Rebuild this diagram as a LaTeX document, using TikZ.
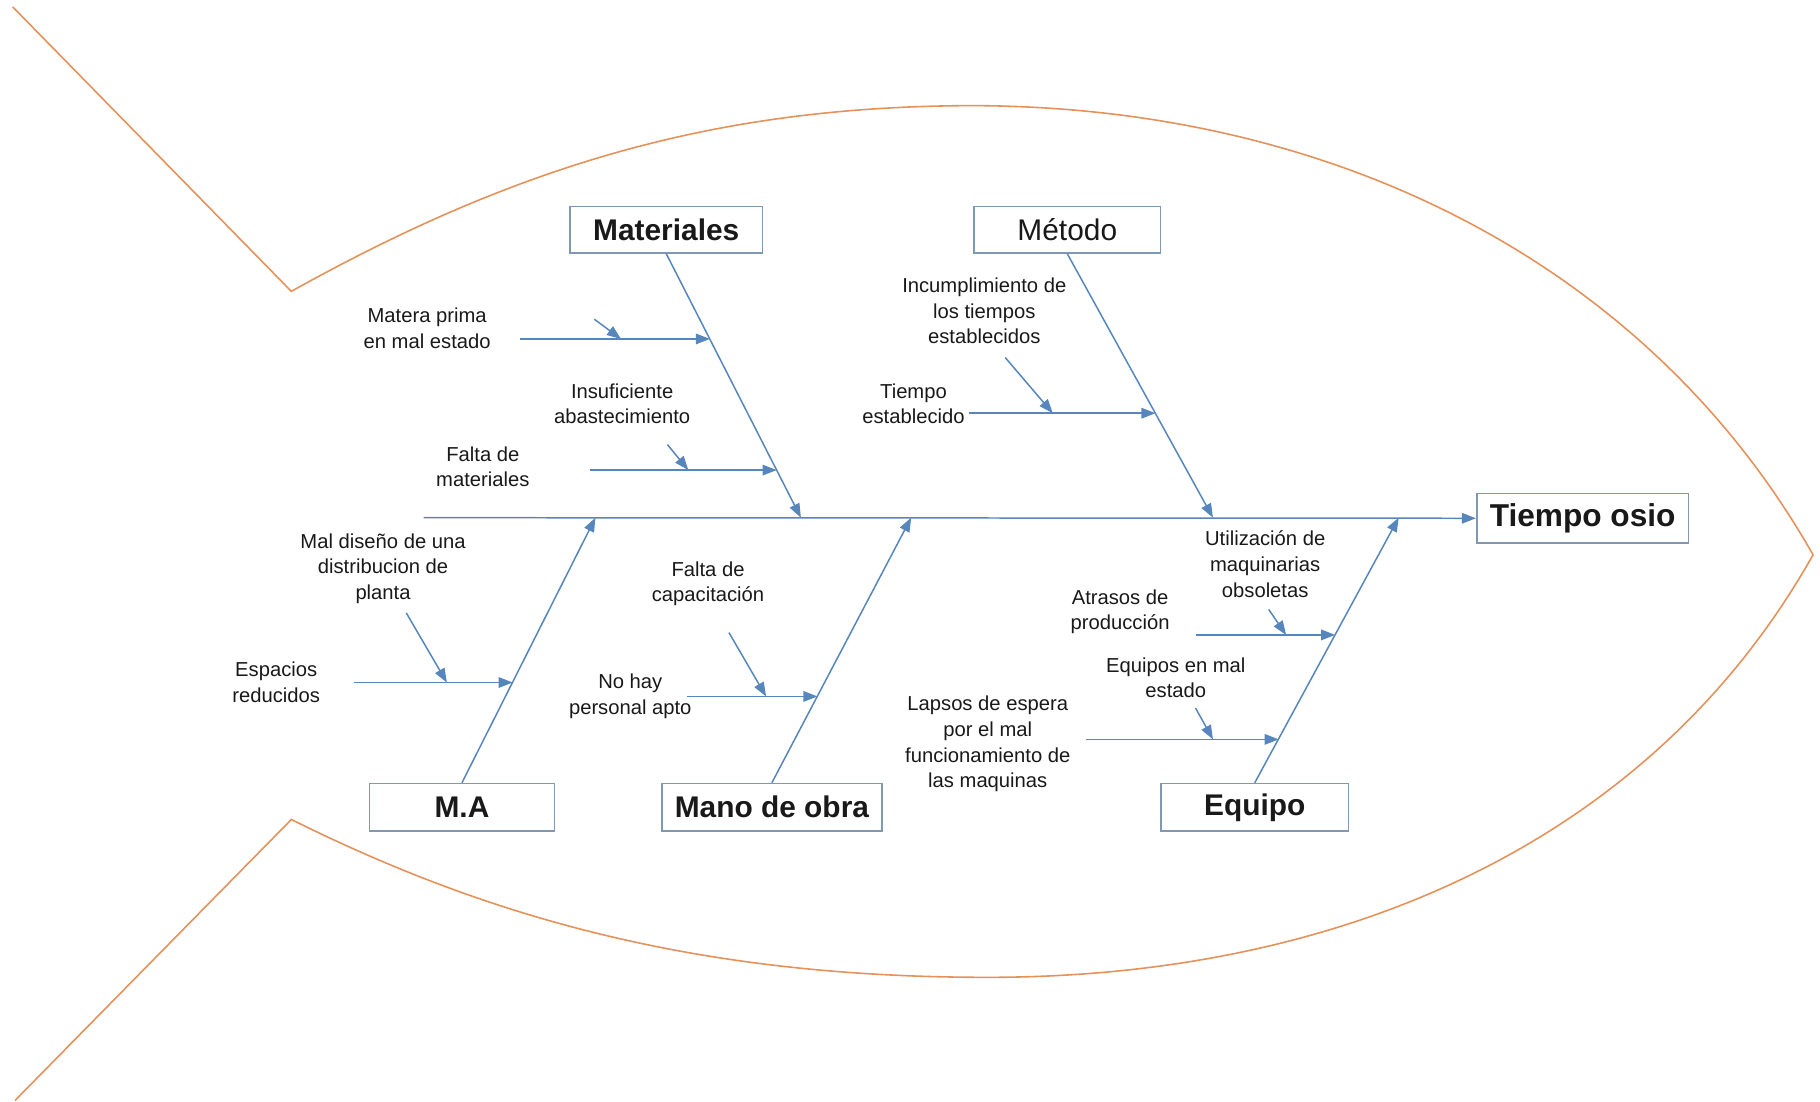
\documentclass[tikz,border=0pt]{standalone}
\usepackage{fontspec}
\setmainfont{Liberation Sans}
\usetikzlibrary{arrows.meta}
\definecolor{fishc}{RGB}{228,145,90}
\definecolor{bonec}{RGB}{86,134,188}
\definecolor{boxc}{RGB}{128,152,178}
\definecolor{txtc}{RGB}{25,25,25}
\begin{document}
\begin{tikzpicture}[x=0.023214cm,y=-0.023214cm,
  fish/.style={draw=fishc,line width=0.9pt,line join=miter},
  bone/.style={draw=bonec,line width=0.85pt,-{Triangle[length=8pt,width=6pt]}},
  catbox/.style={draw=boxc,line width=0.9pt,fill=white,inner sep=0pt,text=txtc,font=\fontsize{17}{20}\selectfont\bfseries},
  lbl/.style={align=center,font=\fontsize{11.5}{14.6}\selectfont,text=txtc,inner sep=0pt}]
\path[use as bounding box] (0,0) rectangle (1568,949);

% fish outline
\draw[fish] (11,6) -- (251,251)
  .. controls (450,140) and (620,92) .. (835,91)
  .. controls (1150,91) and (1420,228) .. (1562,478)
  .. controls (1420,730) and (1150,842) .. (851,842)
  .. controls (600,842) and (420,790) .. (251,706)
  -- (13,948);

% category boxes
\node[catbox,minimum width=109.3pt,minimum height=26.3pt] (Mat) at (574,198) {Materiales};
\node[catbox,minimum width=106pt,minimum height=26.3pt,font=\fontsize{17}{20}\selectfont] (Met) at (919.5,198) {Método};
\node[catbox,minimum width=105.3pt,minimum height=27pt] (MA) at (398,695.5) {M.A};
\node[catbox,minimum width=125pt,minimum height=27pt] (MO) at (665,695.5) {Mano de obra};
\node[catbox,minimum width=106.6pt,minimum height=27pt] (Eq) at (1081,695.5) {Equipo};
\node[catbox,minimum width=120.5pt,minimum height=28.3pt,font=\fontsize{18}{21}\selectfont\bfseries] (T) at (1363.5,446.5) {Tiempo osio};

% spine
\coordinate (sp0) at (365,446);
\draw[bone] (sp0) -- (T.west);

% main bones
\coordinate (matT) at (690,446);
\coordinate (metT) at (1045,446);
\coordinate (maT) at (513,446);
\coordinate (moT) at (785,446);
\coordinate (eqT) at (1205,446);
\draw[bone] (Mat.south) -- (matT);
\draw[bone] (Met.south) -- (metT);
\draw[bone] (MA.north) -- (maT);
\draw[bone] (MO.north) -- (moT);
\draw[bone] (Eq.north) -- (eqT);

% labels
\node[lbl] (l1) at (368,283) {Matera prima\\en mal estado};
\node[lbl] (l2) at (536,348) {Insuficiente\\abastecimiento};
\node[lbl] (l3) at (416,402) {Falta de\\materiales};
\node[lbl] (l4) at (848,268) {Incumplimiento de\\los tiempos\\establecidos};
\node[lbl] (l5) at (787,348) {Tiempo\\establecido};
\node[lbl] (l6) at (330,490) {Mal diseño de una\\distribucion de\\planta};
\node[lbl] (l7) at (238,588) {Espacios\\reducidos};
\node[lbl] (l8) at (610,503) {Falta de\\capacitación};
\node[lbl] (l9) at (543,600) {No hay\\personal apto};
\node[lbl] (l10) at (1090,486) {Utilización de\\maquinarias\\obsoletas};
\node[lbl] (l11) at (965,527) {Atrasos de\\producción};
\node[lbl] (l12) at (1013,584) {Equipos en mal\\estado};
\node[lbl] (l13) at (851,641) {Lapsos de espera\\por el mal\\funcionamiento de\\las maquinas};

% sub causes (horizontal)
\coordinate (h1a) at (448,292);  \coordinate (h1b) at (611.6,292);
\coordinate (h2a) at (508,405);  \coordinate (h2b) at (669.1,405);
\coordinate (h3a) at (835,356);  \coordinate (h3b) at (995.5,356);
\coordinate (h4a) at (305,588);  \coordinate (h4b) at (441.7,588);
\coordinate (h5a) at (592,600);  \coordinate (h5b) at (704.3,600);
\coordinate (h6a) at (1030,547); \coordinate (h6b) at (1150.3,547);
\coordinate (h7a) at (936,637);  \coordinate (h7b) at (1101.6,637);
\draw[bone] (h1a) -- (h1b);
\draw[bone] (h2a) -- (h2b);
\draw[bone] (h3a) -- (h3b);
\draw[bone] (h4a) -- (h4b);
\draw[bone] (h5a) -- (h5b);
\draw[bone] (h6a) -- (h6b);
\draw[bone] (h7a) -- (h7b);

% sub-sub causes (small arrows)
\coordinate (s1a) at (512,275);  \coordinate (s1b) at (535,292);
\coordinate (s2a) at (575,383);  \coordinate (s2b) at (593,405);
\coordinate (s3a) at (866,308);  \coordinate (s3b) at (907,356);
\coordinate (s4a) at (350,528);  \coordinate (s4b) at (385,588);
\coordinate (s5a) at (628,545);  \coordinate (s5b) at (660,600);
\coordinate (s6a) at (1093,525); \coordinate (s6b) at (1108,547);
\coordinate (s7a) at (1030,610); \coordinate (s7b) at (1045,637);
\draw[bone] (s1a) -- (s1b);
\draw[bone] (s2a) -- (s2b);
\draw[bone] (s3a) -- (s3b);
\draw[bone] (s4a) -- (s4b);
\draw[bone] (s5a) -- (s5b);
\draw[bone] (s6a) -- (s6b);
\draw[bone] (s7a) -- (s7b);
\end{tikzpicture}
\end{document}
